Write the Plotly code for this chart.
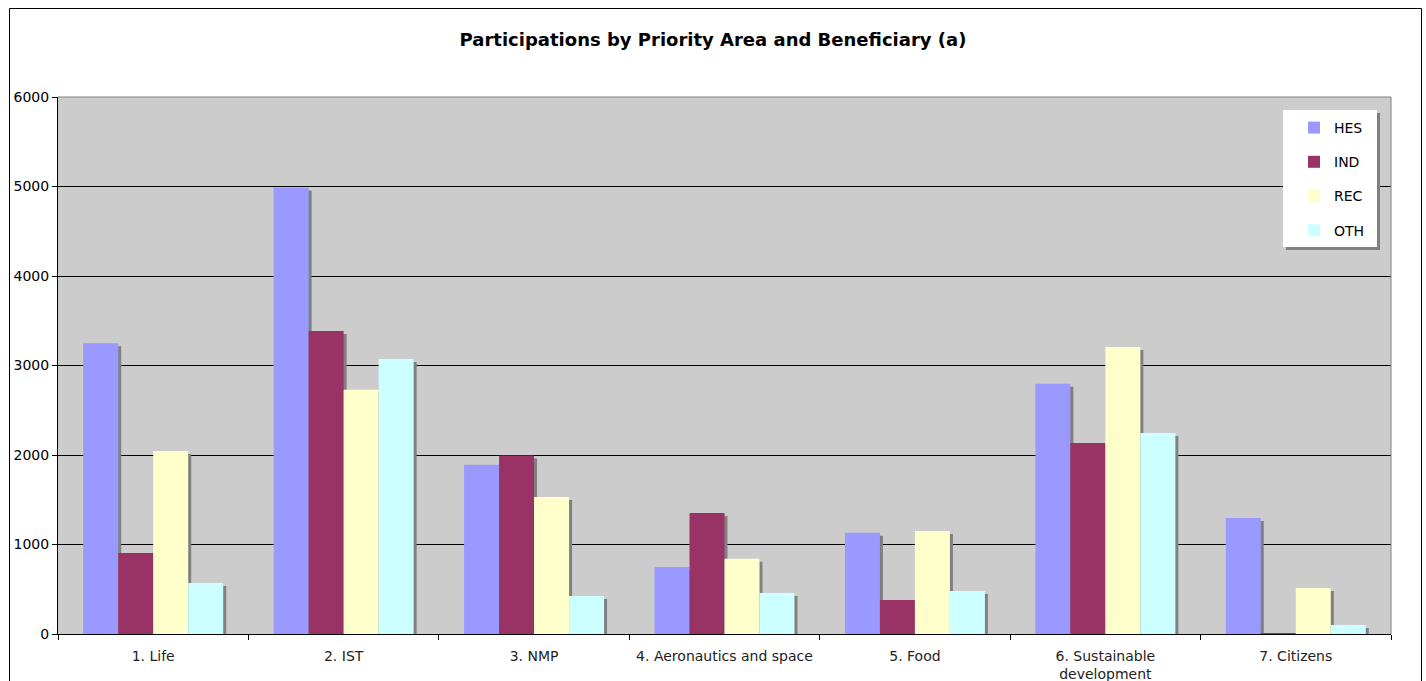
import plotly.graph_objects as go

# Priority areas (x categories)
areas = ["1. Life", "2. IST", "3. NMP", "4. Aeronautics and space", "5. Food",
         "6. Sustainable<br>development", "7. Citizens"]

# Participations per beneficiary type
hes = [3250, 4990, 1890, 750, 1130, 2795, 1295]
ind = [905, 3385, 1995, 1352, 380, 2135, 10]
rec = [2045, 2730, 1530, 840, 1150, 3207, 515]
oth = [570, 3073, 425, 458, 480, 2246, 100]

series_names = ["HES", "IND", "REC", "OTH"]
series_values = [hes, ind, rec, oth]
series_colors = ["#9999FF", "#993366", "#FFFFCC", "#CCFFFF"]
shadow_color = "#808080"

W, H = 1426, 681
ML, MR, MT, MB = 58, 35, 97, 47
PW, PH = W - ML - MR, H - MT - MB
Y_MAX = 6000

bar_w = 35 / (PW / len(areas))          # bar width in category units
shadow_dx = 3 / (PW / len(areas))       # shadow shift right
shadow_dy = 3 * Y_MAX / PH              # shadow shift down (data units)


def px_x(p):
    return (p - ML) / PW


def px_y(p):
    return (H - MB - p) / PH


fig = go.Figure()
for i, (name, vals, col) in enumerate(zip(series_names, series_values, series_colors)):
    off = -2 * bar_w + i * bar_w
    fig.add_trace(go.Bar(
        x=areas, y=vals, base=[-shadow_dy] * len(vals),
        offset=off + shadow_dx, width=bar_w,
        marker=dict(color=shadow_color, line=dict(width=0)),
        showlegend=False, hoverinfo="skip",
    ))
    fig.add_trace(go.Bar(
        x=areas, y=vals, name=name,
        offset=off, width=bar_w,
        marker=dict(color=col, line=dict(width=0)),
        legendgroup=name,
    ))

shapes = [
    # outer chart frame
    dict(type="rect", xref="paper", yref="paper",
         x0=px_x(9.5), x1=px_x(1421.5), y0=px_y(700), y1=px_y(8.5),
         line=dict(color="#000000", width=1), layer="below"),
    # plot-area top and right borders
    dict(type="line", xref="paper", yref="paper",
         x0=0, x1=1, y0=1, y1=1, line=dict(color="#808080", width=1), layer="above"),
    dict(type="line", xref="paper", yref="paper",
         x0=1, x1=1, y0=0, y1=1, line=dict(color="#808080", width=1), layer="above"),
    # legend box with drop shadow
    dict(type="rect", xref="paper", yref="paper",
         x0=px_x(1286), x1=px_x(1380), y0=px_y(250), y1=px_y(113),
         fillcolor=shadow_color, line=dict(width=0), layer="above"),
    dict(type="rect", xref="paper", yref="paper",
         x0=px_x(1283), x1=px_x(1377), y0=px_y(247), y1=px_y(110),
         fillcolor="#FFFFFF", line=dict(width=0), layer="above"),
]

fig.update_layout(
    width=W, height=H,
    margin=dict(l=ML, r=MR, t=MT, b=MB, pad=0, autoexpand=False),
    paper_bgcolor="#FFFFFF",
    plot_bgcolor="#CCCCCC",
    barmode="overlay",
    font=dict(family="DejaVu Sans, Verdana, sans-serif", size=14, color="#000000"),
    title=dict(text="<b>Participations by Priority Area and Beneficiary (a)</b>",
               x=0.5, xref="container", xanchor="center",
               y=1 - 40 / H, yref="container", yanchor="middle",
               font=dict(size=18, color="#000000")),
    xaxis=dict(type="category", categoryorder="array", categoryarray=areas,
               tickson="boundaries", ticks="outside", ticklen=5, tickcolor="#000000",
               showline=True, linecolor="#000000", linewidth=1,
               showgrid=False, automargin=False, ticklabelstandoff=9,
               tickfont=dict(size=14, color="#222222")),
    yaxis=dict(range=[0, Y_MAX], dtick=1000, tick0=0,
               ticks="outside", ticklen=5, tickcolor="#000000",
               showline=True, linecolor="#000000", linewidth=1,
               showgrid=True, gridcolor="#000000", gridwidth=1,
               zeroline=False, automargin=False,
               tickfont=dict(size=14, color="#000000")),
    legend=dict(x=px_x(1294), y=px_y(112), xanchor="left", yanchor="top",
                bgcolor="rgba(0,0,0,0)", borderwidth=0,
                traceorder="grouped", tracegroupgap=13,
                font=dict(size=14, color="#000000")),
    shapes=shapes,
)

fig.write_html("out.html")
